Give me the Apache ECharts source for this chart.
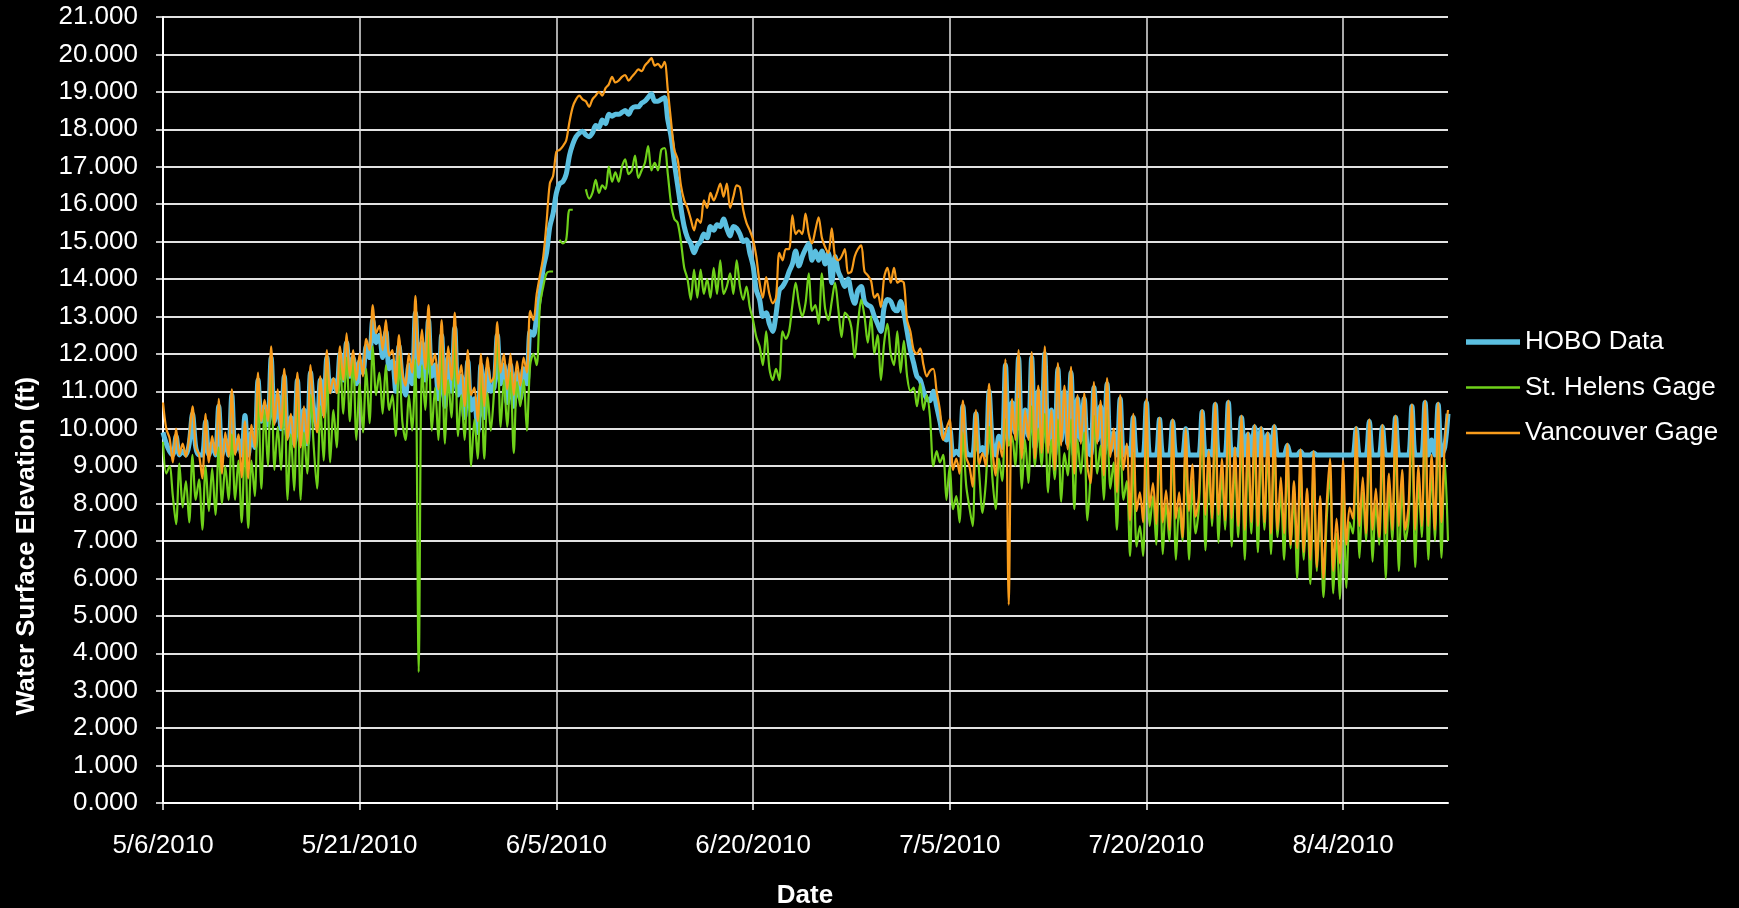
<!DOCTYPE html>
<html><head><meta charset="utf-8">
<script src="https://cdn.jsdelivr.net/npm/echarts@6/dist/echarts.min.js"></script>
<style>html,body{margin:0;padding:0;background:#000;}#c{width:1739px;height:908px;}</style>
</head><body><div id="c"></div>
<script>
// sampling: one value every quarter day starting 5/6/2010
const stepDays = 0.25;
const xTickDays = [0, 15, 30, 45, 60, 75, 90];
const seriesNames = ['HOBO Data', 'St. Helens Gage', 'Vancouver Gage'];
const xTitle = 'Date';
const yTitle = 'Water Surface Elevation (ft)';

const hobo = [
9.9,9.6,9.4,9.3,9.8,9.3,9.4,9.3,9.6,10.4,
9.5,9.3,9.3,10.2,9.3,9.6,9.3,10.6,9.3,9.7,
9.3,10.9,9.4,9.7,9.3,10.35,9.3,9.9,9.5,11.3,
10.2,10.6,10.1,11.9,10.2,10.9,10.0,11.4,9.8,10.3,
9.6,11.3,9.6,10.5,9.6,11.5,10.5,10.0,11.3,10.4,
11.9,11.0,11.3,11.0,12.0,11.3,12.3,11.4,11.9,11.2,
11.8,11.5,12.2,11.9,12.9,12.3,12.5,11.9,12.6,11.6,
11.8,11.0,12.2,11.3,10.9,11.7,11.2,13.1,11.4,12.3,
11.3,12.9,11.4,11.7,10.8,12.5,10.6,11.9,11.0,12.7,
10.9,11.4,10.3,11.8,10.5,10.8,9.9,11.7,10.3,11.6,
11.0,11.1,12.5,11.2,11.7,10.7,11.7,10.6,11.5,10.8,
11.6,11.2,12.6,12.5,13.0,13.6,14.3,14.7,15.4,15.75,
16.3,16.55,16.6,16.8,17.3,17.6,17.8,17.9,17.95,17.85,
17.8,17.9,18.1,18.05,18.25,18.15,18.4,18.35,18.4,18.4,
18.45,18.5,18.4,18.55,18.6,18.6,18.7,18.75,18.85,18.95,
18.75,18.75,18.8,18.85,18.25,17.8,17.1,16.5,15.9,15.4,
15.1,14.95,14.7,14.9,15.0,15.2,15.1,15.4,15.3,15.45,
15.4,15.6,15.35,15.15,15.4,15.35,15.2,15.0,15.05,14.7,
14.35,13.7,13.45,13.0,13.1,12.8,12.6,13.05,13.7,13.8,
13.95,14.2,14.4,14.75,14.35,14.6,14.8,14.95,14.5,14.75,
14.5,14.75,14.4,14.7,13.9,14.6,14.2,14.0,13.8,14.0,
13.6,13.35,13.7,13.8,13.4,13.3,13.25,13.0,12.8,12.6,
13.25,13.45,13.4,13.2,13.15,13.4,13.1,12.6,12.1,11.75,
11.4,11.3,11.0,10.8,10.75,11.0,10.6,10.2,9.8,9.7,
10.0,9.3,9.4,9.3,10.6,9.4,9.3,9.3,10.4,9.4,
9.5,9.3,11.0,9.6,9.3,9.8,9.5,11.7,9.6,10.7,
9.9,11.9,9.5,10.5,9.8,11.9,9.5,11.0,9.6,12.0,
9.6,10.5,9.3,11.6,9.7,11.0,9.6,11.5,9.3,10.8,
9.7,10.8,9.4,9.3,11.1,9.7,10.6,9.3,11.2,9.4,
9.9,9.3,10.8,9.3,9.5,9.3,10.3,9.3,9.3,9.3,
10.7,9.3,9.3,9.3,10.25,9.3,9.3,9.3,10.2,9.3,
9.3,9.3,10.0,9.3,9.3,9.3,9.3,10.45,9.3,9.4,
9.3,10.65,9.3,9.3,9.3,10.7,9.3,9.45,9.3,10.3,
9.3,9.85,9.3,10.05,9.3,10.0,9.3,9.85,9.3,10.05,
9.3,9.3,9.3,9.55,9.3,9.3,9.3,9.4,9.3,9.3,
9.3,9.35,9.3,9.3,9.3,9.3,9.3,9.3,9.3,9.3,
9.3,9.3,9.3,9.3,10.0,9.3,9.3,9.3,10.2,9.3,
9.3,9.3,10.05,9.3,9.3,9.3,10.3,9.3,9.3,9.3,
9.3,10.6,9.3,9.3,9.3,10.7,9.3,9.7,9.3,10.65,
9.3,9.5,10.4
];

const stHelens = [
9.65,8.8,9.0,8.2,7.45,9.07,7.9,8.6,7.5,9.3,
8.1,8.65,7.3,9.0,7.8,8.95,7.7,9.5,8.0,9.0,
8.1,9.85,8.1,9.15,7.5,9.7,7.35,9.15,8.2,11.1,
8.4,10.5,9.0,11.9,8.9,10.05,8.9,11.4,8.1,9.85,
8.35,11.2,8.1,9.9,8.8,10.9,9.5,8.4,10.6,9.15,
11.65,9.1,10.5,9.5,12.0,10.4,11.9,10.2,12.0,9.7,
11.2,9.9,11.6,10.15,12.2,10.9,11.5,10.4,11.7,10.5,
10.9,9.8,11.95,10.2,9.7,10.9,9.95,11.85,3.5,11.7,
10.5,12.65,9.95,11.1,9.7,12.4,9.6,11.3,10.3,12.55,
9.8,10.9,9.7,11.75,9.0,10.25,9.2,11.7,9.2,10.95,
9.95,11.0,12.4,10.05,11.3,10.05,11.5,9.35,11.25,10.6,
11.3,9.95,11.7,12.0,11.7,13.3,13.8,14.15,14.2,14.2,
null,15.05,14.95,15.05,15.85,15.85,null,null,null,16.4,
16.15,16.3,16.65,16.3,16.5,16.4,17.0,16.6,16.85,16.6,
17.0,17.2,16.8,16.9,17.3,16.7,16.9,17.1,17.55,16.9,
17.1,16.9,17.45,17.5,16.8,16.0,15.6,15.5,15.0,14.3,
14.0,13.45,14.25,13.5,14.25,13.6,14.0,13.5,14.3,13.6,
14.5,13.6,13.8,14.15,13.6,14.5,13.8,13.45,13.8,13.25,
12.9,12.45,12.2,11.7,12.6,11.6,11.3,11.6,11.3,12.6,
12.4,12.6,13.3,13.9,13.35,13.0,13.35,14.15,13.15,13.3,
12.8,14.15,13.2,12.9,13.4,13.9,13.2,12.45,13.1,13.0,
12.7,11.9,12.8,13.45,13.0,12.3,13.0,12.0,12.5,11.3,
12.3,12.8,12.0,11.7,12.6,11.5,12.35,11.4,11.0,11.1,
10.6,11.2,10.5,10.9,10.3,9.0,9.4,9.1,9.3,8.1,
9.0,7.85,8.2,7.5,9.9,8.5,7.9,7.4,10.0,8.8,
7.75,8.55,10.05,8.7,7.85,9.2,8.6,10.25,9.55,9.8,
9.0,10.8,8.4,9.7,8.55,10.6,9.0,10.0,9.0,10.4,
8.3,9.7,8.65,10.25,8.05,9.35,8.75,10.25,7.85,9.7,
8.8,9.9,7.55,8.8,10.35,8.8,9.55,8.1,10.5,8.4,
9.1,7.3,9.9,8.1,8.6,6.6,9.35,6.85,7.4,6.6,
9.9,7.4,8.2,6.9,9.9,6.65,8.0,7.0,9.8,6.5,
7.9,7.0,9.6,6.5,8.6,7.2,7.9,10.1,6.75,9.0,
7.4,10.3,6.95,8.8,7.3,10.3,6.85,9.1,7.1,9.9,
6.5,9.4,7.2,9.7,6.7,9.6,7.3,9.5,6.65,9.6,
7.1,8.3,6.5,9.2,6.8,8.2,6.0,9.0,6.5,8.0,
5.85,8.9,6.2,7.8,5.5,7.6,8.8,5.6,7.2,5.45,
8.7,5.75,7.5,7.2,9.6,6.55,8.3,7.0,9.8,6.45,
8.0,6.9,9.7,6.0,8.4,7.0,9.9,6.2,8.5,7.0,
7.6,10.2,6.3,8.6,7.1,10.3,6.5,8.9,7.0,10.2,
6.55,9.2,7.0
];

const vancouver = [
10.7,10.0,9.75,9.1,10.0,9.3,9.6,9.25,9.8,10.6,
9.5,9.3,8.67,10.4,9.1,9.8,9.3,10.8,8.8,9.9,
9.25,11.05,9.3,9.85,8.7,10.2,8.67,10.1,9.5,11.5,
10.2,10.77,10.2,12.2,10.1,11.05,10.0,11.6,9.7,10.4,
9.5,11.5,9.5,10.6,9.6,11.7,10.5,9.9,11.4,10.3,
12.1,10.95,11.35,10.95,12.2,11.3,12.55,11.4,12.1,11.3,
12.0,11.4,12.4,12.1,13.3,12.55,12.75,12.1,12.9,11.95,
12.1,11.2,12.5,11.5,11.15,12.0,11.5,13.55,11.7,12.65,
11.6,13.3,11.7,12.0,11.05,12.9,10.9,12.2,11.3,13.1,
11.2,11.7,10.6,12.1,10.9,11.1,10.2,12.0,10.6,11.9,
11.25,11.4,12.85,11.5,12.0,11.05,12.0,10.9,11.8,11.15,
11.9,11.5,13.15,12.9,13.6,14.1,14.6,15.5,16.55,16.75,
17.4,17.45,17.55,17.7,18.2,18.6,18.8,18.9,18.8,18.75,
18.6,18.8,18.9,19.0,18.9,19.1,19.2,19.4,19.25,19.3,
19.4,19.45,19.3,19.4,19.5,19.6,19.55,19.7,19.8,19.9,
19.7,19.75,19.65,19.8,19.05,18.2,17.45,17.2,16.5,16.1,
15.9,15.6,15.3,15.6,15.5,16.1,15.9,16.3,16.1,16.3,
16.55,16.2,16.55,15.9,16.2,16.5,16.45,15.85,15.5,15.3,
15.05,14.6,13.9,13.5,14.05,13.6,13.35,13.5,14.7,14.5,
14.8,14.8,15.7,15.2,15.3,15.2,15.75,15.2,14.95,15.3,
15.65,15.1,14.85,14.7,15.35,14.6,14.5,14.6,14.8,14.15,
14.2,14.6,14.8,14.9,14.2,14.1,13.95,13.5,13.6,13.25,
14.05,14.3,13.9,14.3,13.9,13.95,13.9,12.9,12.6,12.1,
12.0,12.15,11.7,11.4,11.55,11.6,11.0,10.5,9.7,10.0,
10.25,8.9,9.2,8.8,10.75,9.25,9.0,8.45,10.5,9.05,
9.35,9.0,11.2,9.5,8.75,9.65,9.25,11.85,5.3,10.8,
9.7,12.1,9.2,10.5,9.7,12.05,9.2,11.15,9.35,12.2,
9.35,10.5,8.9,11.75,9.55,11.15,9.45,11.65,8.8,10.9,
9.6,10.95,9.0,8.55,11.25,9.6,10.75,8.75,11.35,9.25,
10.0,8.3,10.9,8.9,9.6,7.55,10.4,7.8,8.3,7.5,
10.8,7.9,8.55,7.45,10.3,7.5,8.35,7.3,10.25,7.6,
8.3,7.1,10.0,7.8,9.05,7.65,8.2,10.5,7.7,9.4,
7.6,10.7,7.7,9.2,7.55,10.75,7.6,9.5,7.4,10.35,
7.3,9.9,7.5,10.1,7.4,10.05,7.5,9.9,7.2,10.1,
7.3,8.7,7.2,9.6,6.9,8.6,6.8,9.45,6.7,8.4,
6.5,9.4,6.3,8.2,6.0,8.0,9.2,6.2,7.6,6.4,
9.15,6.9,7.9,7.6,10.05,7.4,8.7,7.2,10.25,7.3,
8.4,7.1,10.1,7.2,8.8,7.3,10.35,7.4,8.9,7.3,
8.0,10.65,7.3,9.0,7.4,10.75,7.4,9.3,7.3,10.7,
7.5,9.6,10.5
];

const seriesColors = ['#5bbfe0', '#6fd11a', '#f89c1c'];
const lineWidths = [5, 2.2, 2.2];

function dayLabel(d) {
  const dt = new Date(2010, 4, 6 + Math.round(d));
  return (dt.getMonth() + 1) + '/' + dt.getDate() + '/' + dt.getFullYear();
}
function toData(arr) {
  return arr.map((v, i) => [i * stepDays, v == null ? '-' : v]);
}
function lineIcon(h) {
  return 'path://M0,0L54,0L54,' + h + 'L0,' + h + 'Z';
}

const FONT = 'Liberation Sans, Arial, Helvetica, sans-serif';
const chart = echarts.init(document.getElementById('c'), null, {renderer: 'canvas'});
chart.setOption({
  backgroundColor: '#000000',
  animation: false,
  textStyle: {fontFamily: FONT},
  grid: {left: 163, right: 291, top: 17, bottom: 105, containLabel: false},
  xAxis: {
    type: 'value', min: 0, max: 98,
    axisLine: {show: true, onZero: false, lineStyle: {color: '#ffffff', width: 2}},
    axisTick: {show: true, length: 7, customValues: xTickDays, lineStyle: {color: '#ffffff', width: 1.5}},
    axisLabel: {color: '#ffffff', fontSize: 26, fontFamily: FONT, margin: 30, customValues: xTickDays, formatter: dayLabel},
    splitLine: {show: true, lineStyle: {color: '#e2e2e2', width: 1.5}}
  },
  yAxis: {
    type: 'value', min: 0, max: 21, interval: 1,
    axisLine: {show: true, lineStyle: {color: '#ffffff', width: 2}},
    axisTick: {show: true, length: 7, lineStyle: {color: '#ffffff', width: 1.5}},
    axisLabel: {color: '#ffffff', fontSize: 26, fontFamily: FONT, margin: 25, formatter: v => v.toFixed(3)},
    splitLine: {show: true, lineStyle: {color: '#e2e2e2', width: 2}}
  },
  legend: {
    orient: 'vertical', left: 1466, top: 329, padding: 0,
    itemWidth: 54, itemHeight: 26, itemGap: 19.5,
    textStyle: {color: '#ffffff', fontSize: 26, fontFamily: FONT},
    data: seriesNames.map((n, i) => ({name: n, icon: lineIcon(lineWidths[i] + 0.3),
      itemStyle: {color: seriesColors[i]}}))
  },
  graphic: [
    {type: 'text', x: 27, y: 546, rotation: Math.PI / 2,
     style: {text: yTitle, fill: '#ffffff', font: 'bold 26px ' + FONT, align: 'center', verticalAlign: 'middle'}},
    {type: 'text', x: 805, y: 896,
     style: {text: xTitle, fill: '#ffffff', font: 'bold 26px ' + FONT, align: 'center', verticalAlign: 'middle'}}
  ],
  series: seriesNames.map((n, i) => ({
    name: n, type: 'line',
    data: toData([hobo, stHelens, vancouver][i]),
    showSymbol: false, symbol: 'none', smooth: 0.3, connectNulls: false,
    color: seriesColors[i],
    lineStyle: {width: lineWidths[i], color: seriesColors[i]}
  }))
});
</script></body></html>
